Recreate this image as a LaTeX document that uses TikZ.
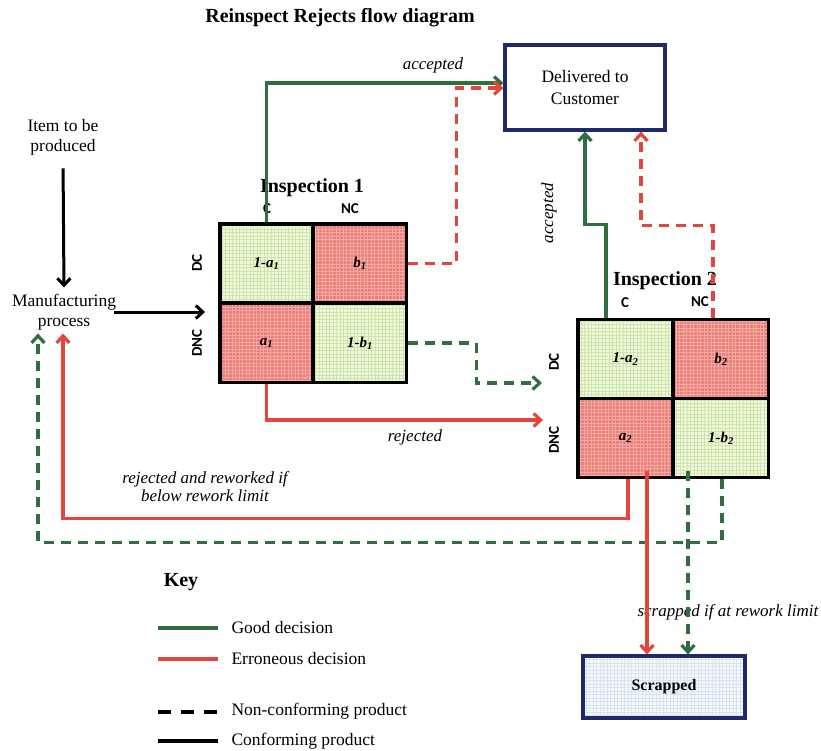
\documentclass[tikz,border=0pt]{standalone}
\usepackage{fontspec}
\setmainfont{Liberation Serif}
\newfontfamily\calibf{Carlito}
\usetikzlibrary{arrows.meta}
\definecolor{goodc}{HTML}{2F6E3F}
\definecolor{badc}{HTML}{E5463C}
\definecolor{navyc}{HTML}{1F2A6A}
\definecolor{gfill}{HTML}{F1F8E2}
\definecolor{gline}{HTML}{CFE5A8}
\definecolor{rfill}{HTML}{EC7E77}
\definecolor{rline}{HTML}{F4ABA5}
\definecolor{bfill}{HTML}{F5F8FC}
\definecolor{bline}{HTML}{DAE3F0}
\begin{document}
\begin{tikzpicture}[x=1pt,y=-1pt,
  >={Straight Barb[length=7pt,width=13pt]},
  good/.style={draw=goodc,line width=3.2pt},
  bad/.style={draw=badc,line width=3.2pt},
  conf/.style={draw=black,line width=3pt},
  ncline/.style={dash pattern=on 10pt off 7pt},
  cellbase/.style={draw=black,line width=3.6pt,inner sep=0pt,
    font=\fontsize{15}{17}\selectfont\bfseries\itshape},
  cellg/.style={cellbase,fill=gfill,path picture={\draw[gline,line width=0.5pt,step=3.5pt]
    (path picture bounding box.south west) grid (path picture bounding box.north east);}},
  cellr/.style={cellbase,fill=rfill,path picture={\draw[rline,line width=0.5pt,step=3.5pt]
    (path picture bounding box.south west) grid (path picture bounding box.north east);}},
  sz1/.style={minimum width=93pt,minimum height=79pt},
  sz2/.style={minimum width=95pt,minimum height=79pt},
  boxst/.style={draw=navyc,line width=3.2pt,fill=white,align=center,
    font=\fontsize{17.5}{22}\selectfont},
  plain/.style={align=center,font=\fontsize{17.5}{20}\selectfont},
  head/.style={font=\fontsize{20}{22}\selectfont\bfseries},
  lab/.style={font=\calibf\fontsize{15}{16}\selectfont\bfseries,inner sep=1pt},
  ital/.style={align=center,font=\fontsize{17}{18}\selectfont\itshape},
  keytext/.style={anchor=west,font=\fontsize{17.5}{20}\selectfont}
]
\path[use as bounding box] (0,0) rectangle (821,751);
\clip (0,0) rectangle (821,751);

% titles and texts
\node[head] (title) at (340,18) {Reinspect Rejects flow diagram};
\node[plain] (item) at (63,137) {Item to be\\produced};
\node[plain] (mfg) at (64,312) {Manufacturing\\process};

% boxes
\node[boxst,minimum width=160pt,minimum height=85pt] (deliv) at (585,87.5) {Delivered to\\Customer};
\node[boxst,fill=bfill,minimum width=162pt,minimum height=62pt,font=\fontsize{16}{20}\selectfont\bfseries,
  path picture={\draw[bline,line width=0.5pt,step=3.5pt]
    (path picture bounding box.south west) grid (path picture bounding box.north east);}]
  (scrap) at (664,687) {Scrapped};

% inspection 1
\node[head] (ins1) at (312,188) {Inspection 1};
\node[lab] (c1lab) at (267,209) {C};
\node[lab] (nc1lab) at (350,209) {NC};
\node[lab,rotate=90] (dc1) at (197,263) {DC};
\node[lab,rotate=90] (dnc1) at (197,343) {DNC};
\node[cellg,sz1] (c1a) at (266.5,263.5) {1-a\textsubscript{1}};
\node[cellr,sz1] (c1b) at (360,263.5) {b\textsubscript{1}};
\node[cellr,sz1] (c1c) at (266.5,343) {a\textsubscript{1}};
\node[cellg,sz1] (c1d) at (360,343) {1-b\textsubscript{1}};

% inspection 2
\node[head] (ins2) at (665,281) {Inspection 2};
\node[lab] (c2lab) at (625,303) {C};
\node[lab] (nc2lab) at (700,302) {NC};
\node[lab,rotate=90] (dc2) at (554,362) {DC};
\node[lab,rotate=90] (dnc2) at (554,440) {DNC};
\node[cellg,sz2] (c2a) at (625.5,359) {1-a\textsubscript{2}};
\node[cellr,sz2] (c2b) at (721,359) {b\textsubscript{2}};
\node[cellr,sz2] (c2c) at (625.5,438) {a\textsubscript{2}};
\node[cellg,sz2] (c2d) at (721,438) {1-b\textsubscript{2}};

% free ends
\coordinate (in1) at (205,312);
\coordinate (in2g) at (542,383);
\coordinate (in2r) at (543,420);

% connector labels
\node[ital] (acc1) at (433,65) {accepted};
\node[ital,rotate=90] (acc2) at (549,213) {accepted};
\node[ital] (rej) at (415,437) {rejected};
\node[ital] (rew) at (205,487) {rejected and reworked if\\below rework limit};
\node[ital,anchor=west] (scr) at (634,612) {scrapped if at rework limit};

% connectors
\draw[conf,->,shorten <=10pt,shorten >=3pt] (item.south) -- (mfg.north);
\draw[conf,->] ([xshift=-6pt]mfg.east |- in1) -- (in1);
\draw[good,->] (c1a.north) |- ([yshift=4.5pt]deliv.west);
\draw[bad,ncline,->] (c1b.east) -- ++(48,0) |- ([yshift=-0.5pt]deliv.west);
\draw[good,ncline,->] (c1d.east) -- ++(68,0) |- (in2g);
\draw[bad,->] (c1c.south) |- (in2r);
\draw[good,->] ([xshift=-19.5pt]c2a.north) -- ++(0,-93) -| (deliv.south);
\draw[bad,ncline,->] ([xshift=-8pt]c2b.north) -- ++(0,-92) -| ([xshift=56pt]deliv.south);
\draw[bad,->] ([xshift=2.5pt]c2c.south) -- ++(0,39) -| ([xshift=-1pt]mfg.south);
\draw[good,ncline,->] ([xshift=1pt]c2d.south) -- ++(0,63) -| ([xshift=-26pt]mfg.south);
\draw[bad,->] ([xshift=21.5pt,yshift=8pt]c2c.south) -- ([xshift=-17pt]scrap.north);
\draw[good,ncline,->] ([xshift=-33pt,yshift=8pt]c2d.south) -- ([xshift=24pt]scrap.north);

% key
\node[font=\fontsize{20}{22}\selectfont\bfseries] (key) at (181,582) {Key};
\node[keytext] (k1) at (228,628) {Good decision};
\node[keytext] (k2) at (228,659) {Erroneous decision};
\node[keytext] (k3) at (228,711) {Non-conforming product};
\node[keytext] (k4) at (228,741) {Conforming product};
\draw[good,line width=3.5pt] (158,628) -- (218,628);
\draw[bad,line width=3.5pt] (158,659) -- (218,659);
\draw[black,line width=4pt,dash pattern=on 13pt off 10pt] (158,712) -- (218,712);
\draw[black,line width=4.5pt] (158,741) -- (218,741);
\end{tikzpicture}
\end{document}
